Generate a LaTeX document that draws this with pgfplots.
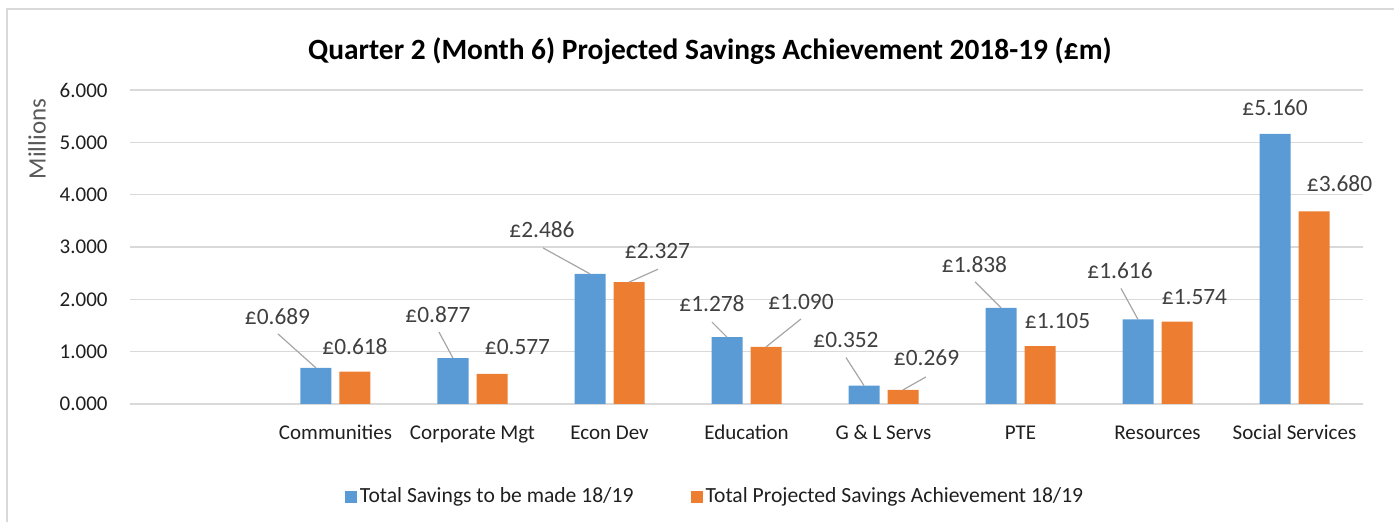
\documentclass[border=0pt]{standalone}
\usepackage{fontspec}
\setmainfont{Carlito}
\usepackage{pgfplots}
\usepackage{pgfplotstable}
\pgfplotsset{compat=1.18}
\definecolor{xblue}{HTML}{5B9BD5}
\definecolor{xorange}{HTML}{ED7D31}
\definecolor{xgrid}{HTML}{D9D9D9}
\definecolor{xlab}{HTML}{404040}
\definecolor{xtick}{HTML}{1F1F1F}
\definecolor{xlead}{HTML}{A6A6A6}
\definecolor{xaxt}{HTML}{595959}

\pgfplotstableread{
x y dx dy
1 0.689 -19.25 25.5
2 0.877 -7.5 21.5
3 2.486 -24 22
4 1.278 -7.5 17
5 0.352 -9 23
6 1.838 -13.25 21.5
7 1.616 -9 24.5
8 5.160 0 13
}\bluedata
\pgfplotstableread{
x y dx dy
1 0.618 0 12.5
2 0.577 12.75 13.5
3 2.327 14.25 15.5
4 1.090 17.5 22.5
5 0.269 11.75 16
6 1.105 8.75 12.5
7 1.574 8.75 12.5
8 3.680 12.75 14
}\orangedata

\begin{document}
\begin{tikzpicture}
\path[use as bounding box] (0,0) rectangle (697pt,261pt);
\draw[xgrid, line width=0.75pt] (3.5pt,-5pt) -- (3.5pt,256.5pt) -- (705pt,256.5pt);
\node[font=\fontsize{14.7pt}{16pt}\selectfont\bfseries, text=black] at (355pt,235.5pt) {Quarter 2 (Month 6) Projected Savings Achievement 2018-19 (£m)};
\node[font=\fontsize{12.5pt}{14pt}\selectfont, text=xaxt, rotate=90] at (18.5pt,191.5pt) {Millions};
\begin{axis}[
  at={(65pt,59pt)}, anchor=south west,
  scale only axis, width=616.5pt, height=157pt,
  xmin=-0.5, xmax=8.5, ymin=0, ymax=6,
  clip=false,
  ybar=4pt, bar width=15.5pt,
  xtick={0,...,8},
  xticklabels={,Communities,Corporate Mgt,Econ Dev,Education,G \& L Servs,PTE,Resources,Social Services},
  ytick={0,...,6},
  scaled y ticks=false,
  /pgf/number format/assume math mode=true,
  yticklabel style={/pgf/number format/fixed, /pgf/number format/fixed zerofill, /pgf/number format/precision=3,
     anchor=east, inner sep=0pt, xshift=-11pt, font=\fontsize{10.5pt}{12pt}\selectfont, text=xtick},
  xticklabel style={anchor=base, inner sep=0pt, yshift=-18pt, font=\fontsize{10.5pt}{12pt}\selectfont, text=xtick},
  axis line style={draw=none},
  major tick length=0pt,
  tick style={draw=none},
  ymajorgrids, major grid style={xgrid, line width=0.75pt},
  legend columns=2,
  legend style={at={(axis description cs:0.1744,-0.296)}, anchor=west, draw=none, fill=none, inner sep=0pt,
     nodes={inner sep=1.25pt, font=\fontsize{10.8pt}{12pt}\selectfont, text=xtick},
     /tikz/every even column/.append style={column sep=27.5pt}},
  legend image code/.code={\fill[#1] (0pt,-3pt) rectangle (6pt,3pt);},
  nodes near coords={£\pgfmathprintnumber[fixed,fixed zerofill,precision=3]{\pgfplotspointmeta}},
  every node near coord/.append style={anchor=center, inner sep=0pt, font=\fontsize{11.7pt}{13pt}\selectfont, text=xlab,
     xshift=\dx pt, yshift=\dy pt},
  visualization depends on={\thisrow{dx} \as \dx},
  visualization depends on={\thisrow{dy} \as \dy},
]
\addplot[draw=none, fill=xblue] table[x=x,y=y] {\bluedata};
\addlegendentry{Total Savings to be made 18/19}
\addplot[draw=none, fill=xorange] table[x=x,y=y] {\orangedata};
\addlegendentry{Total Projected Savings Achievement 18/19}
\begin{scope}[xlead, line width=0.6pt]
\draw ([xshift=-9.75pt]axis cs:1,0.689) -- ++(-19pt,17pt);
\draw ([xshift=-9.75pt]axis cs:2,0.877) -- ++(-7pt,13pt);
\draw ([xshift=-9.75pt]axis cs:3,2.486) -- ++(-23.5pt,13pt);
\draw ([xshift=-9.75pt]axis cs:4,1.278) -- ++(-7.5pt,7.5pt);
\draw ([xshift=-9.75pt]axis cs:5,0.352) -- ++(-9pt,14pt);
\draw ([xshift=-9.75pt]axis cs:6,1.838) -- ++(-13pt,13pt);
\draw ([xshift=-9.75pt]axis cs:7,1.616) -- ++(-8.5pt,15.5pt);
\draw ([xshift=9.75pt]axis cs:3,2.327) -- ++(14.5pt,6.5pt);
\draw ([xshift=9.75pt]axis cs:4,1.090) -- ++(17.5pt,14pt);
\draw ([xshift=9.75pt]axis cs:5,0.269) -- ++(11.5pt,6.5pt);
\end{scope}
\end{axis}
\end{tikzpicture}
\end{document}
